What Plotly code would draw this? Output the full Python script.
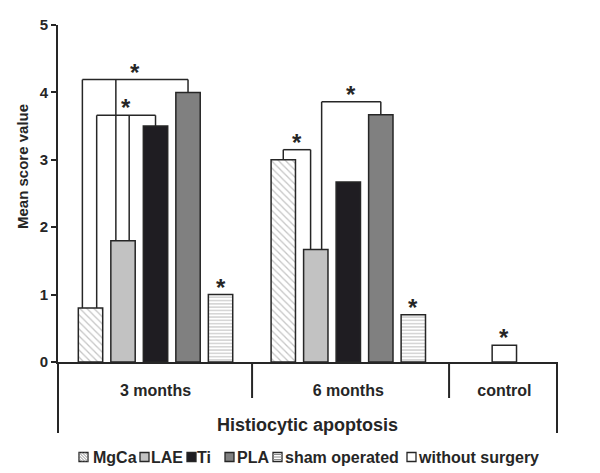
import plotly.graph_objects as go

# ---------------- data ----------------
groups = ["3 months", "6 months", "control"]
series = ["MgCa", "LAE", "Ti", "PLA", "sham operated", "without surgery"]
MgCa = [0.8, 3.0, None]
LAE = [1.8, 1.67, None]
Ti = [3.5, 2.67, None]
PLA = [4.0, 3.67, None]
sham = [1.0, 0.7, None]
without_surgery = [None, None, 0.25]
values = [MgCa, LAE, Ti, PLA, sham, without_surgery]

y_ticks = [0, 1, 2, 3, 4, 5]
y_title = "Mean score value"
x_title = "Histiocytic apoptosis"

# significance brackets: (group, [(series, leg offset), ...], bracket height)
brackets = [
    ("3 months", [("MgCa", -0.25), ("LAE", -0.22), ("PLA", 0.0)], 4.19),
    ("3 months", [("MgCa", 0.19), ("LAE", 0.19), ("Ti", 0.0)], 3.66),
    ("6 months", [("MgCa", 0.0), ("LAE", -0.16)], 3.15),
    ("6 months", [("LAE", 0.18), ("PLA", 0.0)], 3.86),
]
# single stars above bars: (group, series)
single_stars = [("3 months", "sham operated"), ("6 months", "sham operated"),
                ("control", "without surgery")]

# ---------------- styling / layout ----------------
FONT = "Liberation Sans, Arial, sans-serif"
INK = "#262626"
HATCH = "#8a8a8a"
styles = {
    "MgCa": dict(color="white", pattern=dict(shape="\\", fgcolor=HATCH, bgcolor="white", size=5, solidity=0.25)),
    "LAE": dict(color="#c2c2c2"),
    "Ti": dict(color="#1f1d22"),
    "PLA": dict(color="#808080"),
    "sham operated": dict(color="white", pattern=dict(shape="-", fgcolor=HATCH, bgcolor="white", size=3.3, solidity=0.35)),
    "without surgery": dict(color="white"),
}

group_centers = [0.0, 5.93, 10.73]     # category positions along the axis (slot units)
bar_width = 0.75
x_range = [-3.0, 12.35]
boundaries = [2.97, 9.03]

# figure geometry (page is offset 8px by the browser's body margin)
W, H = 600, 473
ML, MR, MT, MB = 50, 51, 17, 119
PW, PH = W - ML - MR, H - MT - MB


def px_to_paper(sx, sy):
    """screen px (as photographed) -> paper coords"""
    fx, fy = sx - 8, sy - 8
    return (fx - ML) / PW, (MT + PH - fy) / PH


# legend layout: (swatch left px, text left px) on the screen, row centre y
legend_pos = [(79, 91), (140, 149), (187, 195), (225, 235), (273, 283), (407, 416)]
legend_y = 457
legend_font = 16
sw = 9


def bar_x(gi, si):
    present = [k for k in range(len(series)) if values[k][gi] is not None]
    n = len(present)
    pos = present.index(si)
    return group_centers[gi] + (pos - (n - 1) / 2)


fig = go.Figure()
for si, name in enumerate(series):
    xs, ys = [], []
    for gi in range(len(groups)):
        v = values[si][gi]
        if v is not None:
            xs.append(bar_x(gi, si))
            ys.append(v)
    st = styles[name]
    marker = dict(color=st["color"], line=dict(color=INK, width=1.5))
    if "pattern" in st:
        marker["pattern"] = st["pattern"]
    fig.add_trace(go.Bar(x=xs, y=ys, name=name, width=bar_width, marker=marker,
                         hoverinfo="skip", showlegend=False))

star_font = dict(family=FONT, size=24, color=INK, weight="bold")
annotations = []
for g, legs, h in brackets:
    gi = groups.index(g)
    leg_x = []
    for s, off in legs:
        si = series.index(s)
        x0 = bar_x(gi, si) + off
        leg_x.append(x0)
        fig.add_trace(go.Scatter(x=[x0, x0], y=[values[si][gi], h], mode="lines",
                                 line=dict(color=INK, width=1.5), showlegend=False,
                                 hoverinfo="skip"))
    fig.add_trace(go.Scatter(x=[min(leg_x), max(leg_x)], y=[h, h], mode="lines",
                             line=dict(color=INK, width=1.5), showlegend=False,
                             hoverinfo="skip"))
    annotations.append(dict(x=(min(leg_x) + max(leg_x)) / 2, y=h, text="*", showarrow=False,
                            xref="x", yref="y", yanchor="bottom", yshift=-8, font=star_font))
for g, s in single_stars:
    gi = groups.index(g)
    si = series.index(s)
    annotations.append(dict(x=bar_x(gi, si), y=values[si][gi], text="*", showarrow=False,
                            xref="x", yref="y", yanchor="bottom", yshift=-8, font=star_font))

# y-axis title (sits above the axis centre in the reference)
ytx, yty = px_to_paper(22, 167)
annotations.append(dict(x=ytx, y=yty, xref="paper", yref="paper", text=y_title,
                        textangle=-90, showarrow=False, xanchor="center", yanchor="middle",
                        font=dict(family=FONT, size=15, color=INK, weight="bold")))

# lines below the axis
_, low = px_to_paper(0, 433)
_, mid = px_to_paper(0, 398)
shapes = [
    dict(type="line", xref="paper", yref="paper", x0=0, x1=0, y0=0, y1=low,
         line=dict(color=INK, width=2)),
    dict(type="line", xref="paper", yref="paper", x0=1, x1=1, y0=0, y1=low,
         line=dict(color=INK, width=2)),
]
for b in boundaries:
    shapes.append(dict(type="line", xref="x", yref="paper", x0=b, x1=b, y0=0, y1=mid,
                       line=dict(color=INK, width=2)))

# manual compact legend (swatch + text)
for name, (sx, tx) in zip(series, legend_pos):
    ax, ay = px_to_paper(sx, legend_y)
    st = styles[name]
    shapes.append(dict(type="rect", xref="paper", yref="paper", xsizemode="pixel",
                       ysizemode="pixel", xanchor=ax, yanchor=ay, x0=0, x1=sw,
                       y0=-sw / 2, y1=sw / 2, fillcolor=st["color"],
                       line=dict(color=INK, width=1.3)))
    pat = st.get("pattern")
    if pat is not None:
        segs = []
        if pat["shape"] == "\\":
            c = 3.0
            while c < 2 * sw:
                xa, xb = max(0.0, c - sw), min(float(sw), c)
                segs.append(f"M{xa:.2f},{(c - xa) - sw / 2:.2f}L{xb:.2f},{(c - xb) - sw / 2:.2f}")
                c += 3.0
        else:
            for yy in (-2.5, 0.0, 2.5):
                segs.append(f"M0,{yy}L{sw},{yy}")
        shapes.append(dict(type="path", xref="paper", yref="paper", xsizemode="pixel",
                           ysizemode="pixel", xanchor=ax, yanchor=ay, path="".join(segs),
                           line=dict(color=HATCH, width=1)))
    txx, tyy = px_to_paper(tx, legend_y)
    annotations.append(dict(x=txx, y=tyy, xref="paper", yref="paper", text=name,
                            showarrow=False, xanchor="left", yanchor="middle",
                            font=dict(family=FONT, size=legend_font, color=INK, weight="bold")))

fig.update_layout(
    width=W, height=H,
    margin=dict(l=ML, r=MR, t=MT, b=MB, autoexpand=False),
    paper_bgcolor="white", plot_bgcolor="white",
    barmode="overlay",
    showlegend=False,
    font=dict(family=FONT, color=INK),
    annotations=annotations,
    shapes=shapes,
)
fig.update_xaxes(range=x_range, showline=True, linecolor=INK, linewidth=2,
                 tickvals=group_centers, ticktext=groups, ticks="outside", ticklen=13,
                 tickcolor="rgba(0,0,0,0)", showgrid=False, zeroline=False,
                 tickfont=dict(family=FONT, size=16, color=INK, weight="bold"),
                 title=dict(text=x_title, standoff=20,
                            font=dict(family=FONT, size=18, color=INK, weight="bold")),
                 automargin=False)
fig.update_yaxes(range=[0, 5], tickvals=y_ticks, showline=True, linecolor=INK, linewidth=2,
                 ticks="outside", ticklen=5, tickwidth=2, tickcolor=INK, showgrid=False,
                 zeroline=False,
                 tickfont=dict(family=FONT, size=15, color=INK, weight="bold"),
                 automargin=False)

fig.write_html("out.html")
